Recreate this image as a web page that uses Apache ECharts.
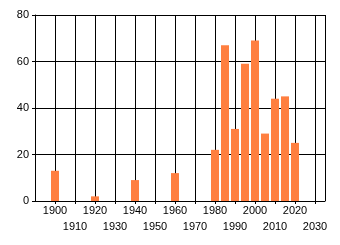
<!DOCTYPE html>
<html><head><meta charset="utf-8">
<script src="https://cdn.jsdelivr.net/npm/echarts@6/dist/echarts.min.js"></script>
<style>html,body{margin:0;padding:0;background:#fff}#c{width:340px;height:245px}</style>
</head><body><div id="c"></div>
<script>
const years = [1900, 1920, 1940, 1960, 1980, 1985, 1990, 1995, 2000, 2005, 2010, 2015, 2020];
const values = [13, 2, 9, 12, 22, 67, 31, 59, 69, 29, 44, 45, 25];
const yTicks = [0, 20, 40, 60, 80];

const chart = echarts.init(document.getElementById('c'), null, {renderer: 'canvas'});
const font = 'Liberation Sans, Arial, sans-serif';
chart.setOption({
  animation: false,
  grid: {left: 35, right: 15, top: 15, bottom: 44},
  xAxis: {
    type: 'value', min: 1890, max: 2035, interval: 10,
    axisLine: {show: true, onZero: false, lineStyle: {color: '#000', width: 1}},
    axisTick: {show: true, length: 3, lineStyle: {color: '#000'}},
    splitLine: {show: true, lineStyle: {color: '#000', width: 1}},
    axisLabel: {
      showMinLabel: false, showMaxLabel: false, margin: 2,
      color: '#000', fontFamily: font, fontSize: 11, lineHeight: 16,
      formatter: v => (v % 20 === 0 ? String(v) : '\n' + v)
    }
  },
  yAxis: {
    type: 'value', min: yTicks[0], max: yTicks[yTicks.length - 1], interval: 20,
    axisLine: {show: true, lineStyle: {color: '#000', width: 1}},
    axisTick: {show: true, length: 3, lineStyle: {color: '#000'}},
    splitLine: {show: true, lineStyle: {color: '#000', width: 1}},
    axisLabel: {margin: 6, color: '#000', fontFamily: font, fontSize: 11}
  },
  series: [{
    type: 'bar', barWidth: 8,
    itemStyle: {color: '#FF7F40'},
    data: years.map((y, i) => [y, values[i]])
  }]
});
</script></body></html>
